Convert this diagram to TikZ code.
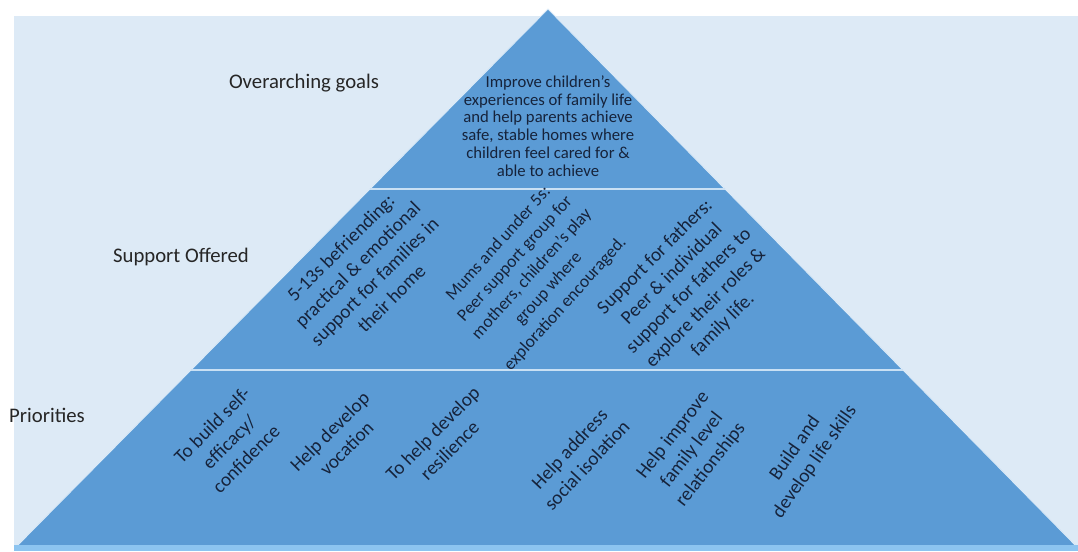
\documentclass[tikz,border=0pt]{standalone}
\usepackage{fontspec}
\setmainfont{Carlito}
\usetikzlibrary{calc}
\definecolor{bg}{HTML}{DDEAF6}
\definecolor{tri}{HTML}{5B9BD5}
\definecolor{band}{HTML}{8CC4F0}
\definecolor{sep}{HTML}{C9E0F4}
\definecolor{ink}{HTML}{16233B}
\definecolor{lab}{HTML}{262626}
\begin{document}
\begin{tikzpicture}[x=0.02cm,y=-0.02cm,
  side/.style={font=\fontsize{11.8}{14}\selectfont, text=lab, inner sep=0pt},
  goal/.style={font=\fontsize{9.5}{10.1}\selectfont, text=ink, align=center, inner sep=0pt},
  rot/.style={font=\fontsize{11}{13.6}\selectfont, text=ink, align=center, rotate=45, inner sep=0pt},
  seg/.style={draw=sep, line width=0.9pt}]
\useasboundingbox (0,0) rectangle (1078,551);
\fill[white] (0,0) rectangle (1078,551);
\fill[bg] (14,16) rectangle (1078,551);
\coordinate (A) at (548,9);
\coordinate (L) at (15,548);
\coordinate (R) at (1078,548);
\fill[tri, draw=sep!70!white, line width=0.5pt, line join=round] (A) -- (L) -- (R) -- cycle;
\fill[band] (14,545) rectangle (1078,551);
\coordinate (s1l) at ($(A)!0.334!(L)$);
\coordinate (s1r) at ($(A)!0.334!(R)$);
\coordinate (s2l) at ($(A)!0.670!(L)$);
\coordinate (s2r) at ($(A)!0.670!(R)$);
\draw[seg] (s1l) -- (s1r);
\draw[seg] (s2l) -- (s2r);

\node[side] (og) at (304,83) {Overarching goals};
\node[side] (so) at (181,257) {Support Offered};
\node[side] (pr) at (47,415) {Priorities};

\node[goal] (goal) at (548,126) {Improve children’s\\experiences of family life\\and help parents achieve\\safe, stable homes where\\children feel cared for \&\\able to achieve};

\node[rot] (s1) at (366,273) {5-13s befriending:\\practical \& emotional\\support for families in\\their home};
\node[rot, rotate=3, font=\fontsize{10}{12.8}\selectfont] (s2) at (532,274) {Mums and under 5s:\\Peer support group for\\mothers, children’s play\\group where\\exploration encouraged.};
\node[rot] (s3) at (689,291) {Support for fathers:\\Peer \& individual\\support for fathers to\\explore their roles \&\\family life.};

\node[rot] (p1) at (229,442) {To build self-\\efficacy/\\confidence};
\node[rot] (p2) at (338,440) {Help develop\\vocation};
\node[rot] (p3) at (441,442) {To help develop\\resilience};
\node[rot, rotate=2] (p4) at (578,457) {Help address\\social isolation};
\node[rot, rotate=7] (p5) at (692,450) {Help improve\\family level\\relationships};
\node[rot, rotate=10] (p6) at (805,455) {Build and\\develop life skills};
\end{tikzpicture}
\end{document}
